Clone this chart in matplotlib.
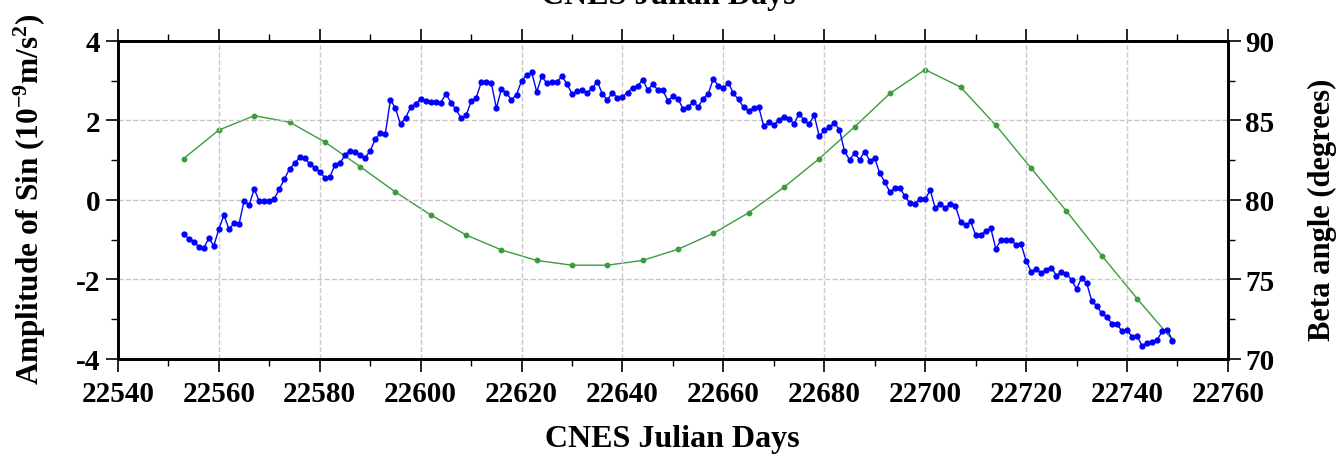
import numpy as np
import matplotlib
matplotlib.use("Agg")
import matplotlib.pyplot as plt
from matplotlib.ticker import MultipleLocator

plt.rcParams['font.family'] = ['Liberation Serif', 'DejaVu Serif']
plt.rcParams['font.weight'] = 'bold'
plt.rcParams['mathtext.fontset'] = 'custom'
plt.rcParams['mathtext.rm'] = 'Liberation Serif:bold'
plt.rcParams['mathtext.it'] = 'Liberation Serif:bold'
plt.rcParams['mathtext.bf'] = 'Liberation Serif:bold'
plt.rcParams['mathtext.default'] = 'rm'

# --- data: daily amplitude of the sine term (1e-9 m/s^2) ---
amp_start = 22553
amp = [
    -0.86, -0.97, -1.05, -1.17, -1.21, -0.96, -1.15, -0.73, -0.38, -0.73,   # 22553-22562
    -0.59, -0.60, -0.02, -0.13, 0.28, -0.03, -0.02, -0.03, 0.03, 0.28,      # 22563-22572
    0.53, 0.78, 0.92, 1.07, 1.06, 0.91, 0.81, 0.71, 0.56, 0.58,             # 22573-22582
    0.88, 0.92, 1.13, 1.24, 1.21, 1.13, 1.06, 1.24, 1.53, 1.68,             # 22583-22592
    1.67, 2.52, 2.31, 1.90, 2.07, 2.33, 2.41, 2.55, 2.49, 2.46,             # 22593-22602
    2.46, 2.45, 2.67, 2.45, 2.28, 2.06, 2.13, 2.48, 2.57, 2.96,             # 22603-22612
    2.96, 2.94, 2.31, 2.79, 2.69, 2.52, 2.65, 3.00, 3.14, 3.21,             # 22613-22622
    2.72, 3.11, 2.94, 2.96, 2.98, 3.11, 2.92, 2.67, 2.73, 2.76,             # 22623-22632
    2.70, 2.81, 2.98, 2.67, 2.52, 2.70, 2.57, 2.60, 2.70, 2.83,             # 22633-22642
    2.86, 3.03, 2.77, 2.91, 2.77, 2.76, 2.50, 2.61, 2.55, 2.29,             # 22643-22652
    2.33, 2.47, 2.34, 2.55, 2.67, 3.05, 2.87, 2.82, 2.94, 2.68,             # 22653-22662
    2.53, 2.33, 2.25, 2.31, 2.34, 1.85, 1.95, 1.89, 2.01, 2.10,             # 22663-22672
    2.04, 1.92, 2.17, 2.01, 1.91, 2.14, 1.60, 1.75, 1.83, 1.94,             # 22673-22682
    1.77, 1.23, 1.01, 1.18, 1.01, 1.22, 0.99, 1.05, 0.67, 0.45,             # 22683-22692
    0.20, 0.30, 0.30, 0.09, -0.08, -0.09, 0.03, 0.02, 0.25, -0.21,          # 22693-22702
    -0.09, -0.21, -0.09, -0.16, -0.55, -0.64, -0.54, -0.88, -0.87, -0.79,   # 22703-22712
    -0.71, -1.23, -1.01, -1.01, -1.01, -1.12, -1.11, -1.53, -1.80, -1.74,   # 22713-22722
    -1.84, -1.75, -1.70, -1.90, -1.82, -1.85, -2.01, -2.24, -1.96, -2.09,   # 22723-22732
    -2.53, -2.67, -2.85, -2.95, -3.11, -3.12, -3.30, -3.26, -3.45, -3.43,   # 22733-22742
    -3.67, -3.60, -3.56, -3.51, -3.30, -3.26, -3.54,                        # 22743-22749
]
amp_days = np.arange(amp_start, amp_start + len(amp))

# --- data: weekly beta angle (degrees) ---
beta_days = np.arange(22553, 22750, 7)
beta = [82.6, 84.4, 85.3, 84.9, 83.65, 82.1, 80.5, 79.06, 77.8, 76.86,
        76.2, 75.9, 75.9, 76.2, 76.9, 77.9, 79.2, 80.8, 82.6, 84.6,
        86.7, 88.2, 87.1, 84.7, 82.0, 79.3, 76.5, 73.8, 71.2]

fig = plt.figure(figsize=(13.36, 4.6), dpi=100)
ax = fig.add_axes([0.0883, 0.2174, 0.8308, 0.6913])
ax2 = ax.twinx()

ax.plot(amp_days, amp, '-o', color='#0000ff', lw=1.0, ms=3.5, zorder=3)
ax2.plot(beta_days, beta, '-o', color='#3c9c3c', lw=1.0, ms=3.2, zorder=2)
ax.set_zorder(ax2.get_zorder() + 1)
ax.patch.set_visible(False)

ax.set_xlim(22540, 22760)
ax.set_ylim(-4, 4)
ax2.set_ylim(70, 90)

ax.xaxis.set_major_locator(MultipleLocator(20))
ax.xaxis.set_minor_locator(MultipleLocator(10))
ax.yaxis.set_major_locator(MultipleLocator(2))
ax.yaxis.set_minor_locator(MultipleLocator(1))
ax2.yaxis.set_major_locator(MultipleLocator(5))
ax2.yaxis.set_minor_locator(MultipleLocator(2.5))

ax.grid(True, which='major', color='#c8c8c8', ls='--', lw=1.0)

ax.tick_params(axis='x', which='both', direction='out', top=True, labelsize=21, pad=6)
ax.tick_params(axis='y', which='both', direction='out', labelsize=21)
ax2.tick_params(axis='y', which='both', direction='out', labelsize=21)
for a in (ax, ax2):
    a.tick_params(which='major', length=9, width=1.2)
    a.tick_params(which='minor', length=5, width=1.0)
    for sp in a.spines.values():
        sp.set_linewidth(2.0)

ax.set_yticks([-4, -2, 0, 2, 4])
ax.set_yticklabels(['-4', '-2', '0', '2', '4'])

# axis titles placed by their centres
fig.text(0.503, 1 - 440 / 460, 'CNES Julian Days', ha='center', va='center',
         fontsize=23, fontweight='bold')
fig.text(30 / 1336, 1 - 199 / 460, 'Amplitude of Sin (10$^{-9}$m/s$^{2}$)',
         ha='center', va='center', rotation=90, fontsize=22.5, fontweight='bold')
fig.text(1322 / 1336, 1 - 210 / 460, 'Beta angle (degrees)',
         ha='center', va='center', rotation=90, fontsize=22, fontweight='bold')

# top axis label, cut by the upper edge as in the source image
fig.text(0.5, 1 - 4 / 460, 'CNES Julian Days', ha='center', va='baseline',
         fontsize=23, fontweight='bold')

fig.savefig('out.png', dpi=100)
